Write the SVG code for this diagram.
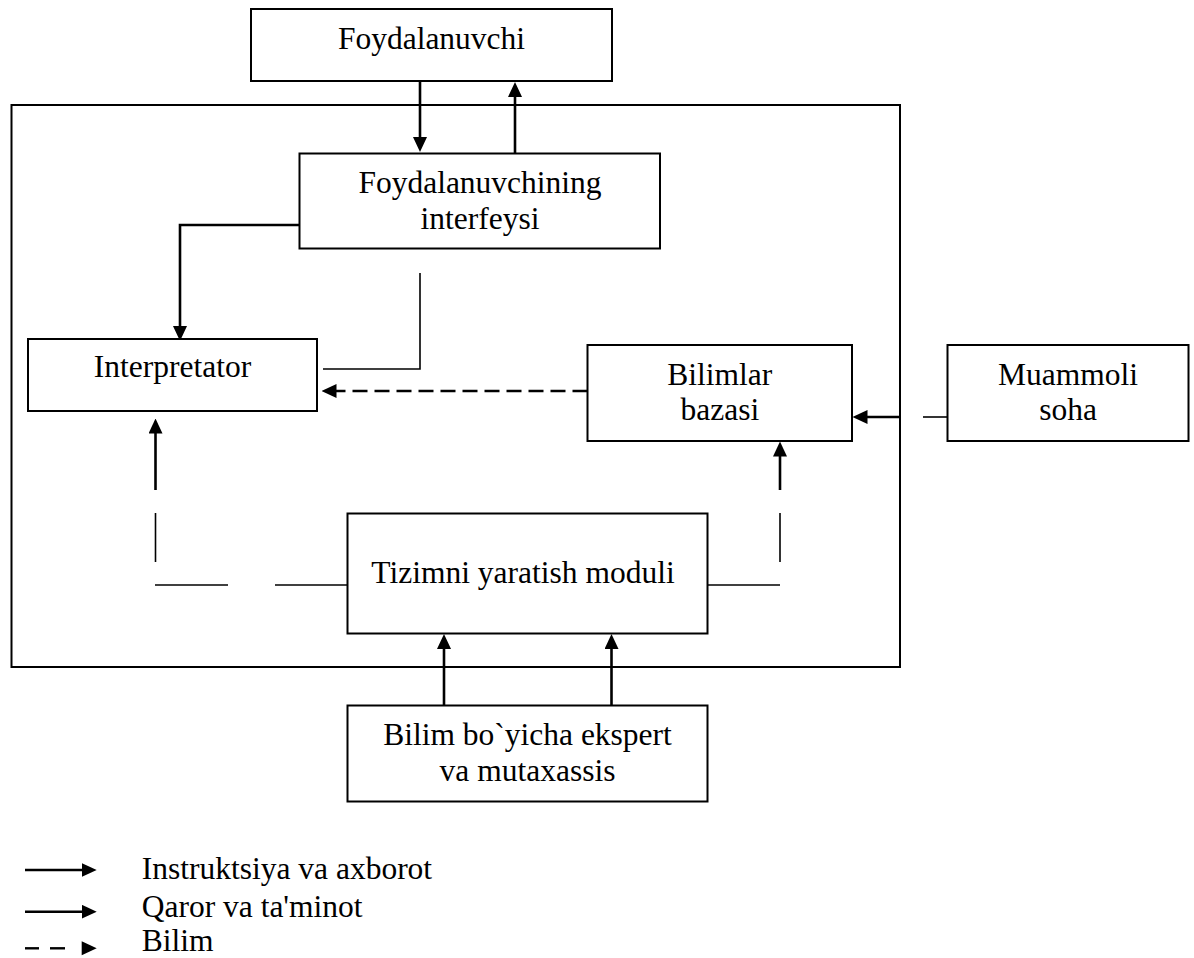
<svg xmlns="http://www.w3.org/2000/svg" width="1194" height="958" viewBox="0 0 1194 958">
<style>
.box{fill:#fff;stroke:#000;stroke-width:2}
.frame{fill:none;stroke:#000;stroke-width:2}
.t{font-family:"Liberation Serif","Times New Roman",serif;font-size:31.5px;fill:#000;text-anchor:middle}
.tl{font-family:"Liberation Serif","Times New Roman",serif;font-size:31.5px;fill:#000}
.arr{fill:none;stroke:#000;stroke-width:2.6;marker-end:url(#ah)}
.ln{fill:none;stroke:#000;stroke-width:1.6}
.dash{fill:none;stroke:#000;stroke-width:2.4;stroke-dasharray:15 7;marker-end:url(#ah)}
</style>
<defs>
<marker id="ah" viewBox="0 0 15 14" refX="7" refY="7" markerWidth="15" markerHeight="14" orient="auto" markerUnits="userSpaceOnUse">
<path d="M0,0 L15,7 L0,14 z" fill="#000"/>
</marker>
</defs>
<rect width="1194" height="958" fill="#fff"/>
<g id="system-boundary">
<rect class="frame" x="11.5" y="105" width="888.5" height="562"/>
</g>
<g id="connectors">
<line class="arr" x1="420" y1="81" x2="420" y2="144"/>
<line class="arr" x1="515" y1="153" x2="515" y2="90"/>
<path class="arr" d="M299.5,225 H180 V333"/>
<path class="ln" d="M420,273 V369 H323"/>
<path class="dash" d="M587.5,391 H329.5"/>
<line class="ln" x1="947.5" y1="417" x2="923" y2="417"/>
<line class="arr" x1="900" y1="417" x2="860.5" y2="417"/>
<line class="arr" x1="155.5" y1="490" x2="155.5" y2="426.5"/>
<line class="ln" x1="155.5" y1="562" x2="155.5" y2="513"/>
<line class="ln" x1="155" y1="585" x2="228" y2="585"/>
<line class="ln" x1="275" y1="585" x2="347.5" y2="585"/>
<line class="ln" x1="707.5" y1="585" x2="780" y2="585"/>
<line class="ln" x1="780" y1="562" x2="780" y2="513"/>
<line class="arr" x1="780" y1="490" x2="780" y2="449.5"/>
<line class="arr" x1="444" y1="705.5" x2="444" y2="642"/>
<line class="arr" x1="611.5" y1="705.5" x2="611.5" y2="642"/>
</g>
<g id="n-foydalanuvchi">
<rect class="box" x="251" y="9" width="361" height="72"/>
<text class="t" x="431.5" y="49">Foydalanuvchi</text>
</g>
<g id="n-interfeys">
<rect class="box" x="299.5" y="153.5" width="360.5" height="95"/>
<text class="t" x="480" y="192.7">Foydalanuvchining</text>
<text class="t" x="480" y="229.3">interfeysi</text>
</g>
<g id="n-interpretator">
<rect class="box" x="28" y="339" width="289" height="72"/>
<text class="t" x="172.5" y="377">Interpretator</text>
</g>
<g id="n-bilimlar">
<rect class="box" x="587.5" y="345" width="264.5" height="96"/>
<text class="t" x="719.8" y="385">Bilimlar</text>
<text class="t" x="719.8" y="420">bazasi</text>
</g>
<g id="n-muammoli">
<rect class="box" x="947.5" y="345" width="241" height="96"/>
<text class="t" x="1068" y="385">Muammoli</text>
<text class="t" x="1068" y="420">soha</text>
</g>
<g id="n-tizim">
<rect class="box" x="347.5" y="513.5" width="360" height="120"/>
<text class="t" x="523" y="583">Tizimni yaratish moduli</text>
</g>
<g id="n-ekspert">
<rect class="box" x="347.5" y="705.5" width="360" height="96"/>
<text class="t" x="527.5" y="745">Bilim bo`yicha ekspert</text>
<text class="t" x="527.5" y="781">va mutaxassis</text>
</g>
<g id="legend">
<line class="arr" x1="25" y1="870" x2="88.7" y2="870"/>
<line class="arr" x1="25" y1="911.7" x2="88.7" y2="911.7"/>
<line class="ln" style="stroke-width:2.4" x1="25" y1="948.3" x2="39" y2="948.3"/>
<line class="ln" style="stroke-width:2.4" x1="50" y1="948.3" x2="65" y2="948.3"/>
<path d="M81.7,941.3 L96.7,948.3 L81.7,955.3 z" fill="#000"/>
<text class="tl" x="141.7" y="879.3">Instruktsiya va axborot</text>
<text class="tl" x="141.7" y="917.3">Qaror va ta'minot</text>
<text class="tl" x="141.7" y="951">Bilim</text>
</g>
</svg>
